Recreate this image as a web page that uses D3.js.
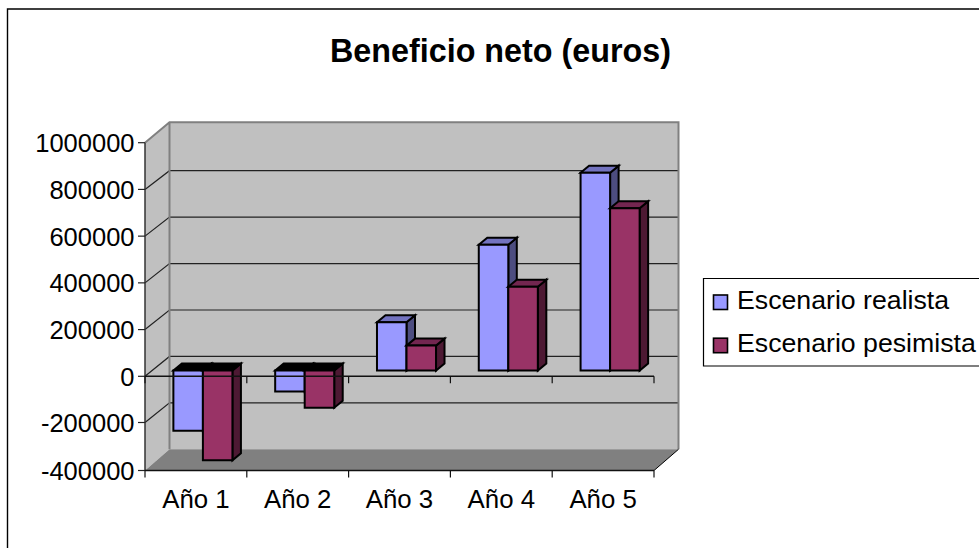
<!DOCTYPE html>
<html>
<head>
<meta charset="utf-8">
<script src="https://cdn.jsdelivr.net/npm/d3@7"></script>
<style>
  body { margin: 0; background: #fff; }
  text { font-family: "Liberation Sans", Arial, sans-serif; fill: #000; }
</style>
</head>
<body>
<div class="graph"></div>
<script>
var categories = ["Año 1", "Año 2", "Año 3", "Año 4", "Año 5"];
var seriesNames = ["Escenario realista", "Escenario pesimista"];
var realista = [-257000, -89000, 207000, 539000, 847000];
var pesimista = [-384000, -159000, 107000, 359000, 695000];
var yTicks = [-400000, -200000, 0, 200000, 400000, 600000, 800000, 1000000];

// Colours: front, top, side
var front = ["#9999ff", "#993366"];
var top3d = ["#7373bf", "#732650"];
var side = ["#4d4d80", "#4d1933"];

// Chart size
var width = 979, height = 548;

// Front plane and back wall of the 3D box
var left = 145, right = 654;
var depthX = 24.5;
var y = d3.scaleLinear()
    .domain([-400000, -200000, 0, 1000000])
    .range([470.5, 422.5, 376.3, 142.7]);
var yBack = d3.scaleLinear()
    .domain([-400000, 800000, 1000000])
    .range([449.3, 170.7, 122.3]);

// Scales for the bars
var x = d3.scaleBand()
    .domain(categories)
    .range([left, right])
    .paddingInner(0.42)
    .paddingOuter(0.21);
var xSeries = d3.scaleBand()
    .domain([0, 1])
    .range([0, x.bandwidth()]);

// Bars stand a little way inside the box
var barOffsetX = 7, barBaseY = 370.6;
var barDepthX = 8.5, barDepthY = 7;
var pxPerUnit = (y(0) - y(200000)) / 200000;

var svg = d3.select(".graph").append("svg")
    .attr("width", width)
    .attr("height", height)
    .style("display", "block");

// Chart frame, open at the right and the bottom where the picture is cut off
svg.append("path")
    .attr("d", "M7.5,548V9H979")
    .attr("fill", "none")
    .attr("stroke", "#000")
    .attr("stroke-width", 1.4);

svg.append("text")
    .attr("x", 500.5)
    .attr("y", 62)
    .attr("text-anchor", "middle")
    .attr("font-size", 32.3)
    .attr("font-weight", "bold")
    .text("Beneficio neto (euros)");

function poly(points, fill, stroke, sw) {
    return svg.append("polygon")
        .attr("points", points.map(function(p) { return p.join(","); }).join(" "))
        .attr("fill", fill)
        .attr("stroke", stroke || "none")
        .attr("stroke-width", sw || 0);
}

// Side wall, back wall, floor
var backLeft = left + depthX, backRight = right + depthX;
poly([[left, y(1000000)], [backLeft, yBack(1000000)], [backLeft, yBack(-400000)], [left, y(-400000)]], "#c0c0c0");
poly([[backLeft, yBack(1000000)], [backRight, yBack(1000000)], [backRight, yBack(-400000)], [backLeft, yBack(-400000)]], "#c0c0c0");
poly([[left, y(-400000)], [backLeft, yBack(-400000)], [backRight, yBack(-400000)], [right, y(-400000)]], "#808080");

// Gridlines on the side and back walls
var grid = yTicks.filter(function(d) { return d > -400000 && d < 1000000; });
svg.selectAll(".grid")
    .data(grid)
    .enter().append("path")
    .attr("class", "grid")
    .attr("d", function(d) {
        return "M" + left + "," + y(d) + "L" + backLeft + "," + yBack(d) + "H" + backRight;
    })
    .attr("fill", "none")
    .attr("stroke", "#222")
    .attr("stroke-width", 1.2);

// Wall edges
svg.append("path")
    .attr("d", "M" + left + "," + y(1000000) + "L" + backLeft + "," + yBack(1000000) + "H" + backRight + "V" + yBack(-400000) +
        "M" + backLeft + "," + yBack(1000000) + "V" + yBack(-400000))
    .attr("fill", "none")
    .attr("stroke", "#808080")
    .attr("stroke-width", 2);
svg.append("path")
    .attr("d", "M" + right + "," + y(-400000) + "L" + backRight + "," + yBack(-400000))
    .attr("fill", "none")
    .attr("stroke", "#000")
    .attr("stroke-width", 1);

// Bars
function drawBar(cat, i, value) {
    var x0 = x(cat) + xSeries(i) + barOffsetX;
    var x1 = x0 + xSeries.bandwidth();
    var yEnd = barBaseY - value * pxPerUnit;
    var yTop = Math.min(barBaseY, yEnd), yBottom = Math.max(barBaseY, yEnd);
    var dx = barDepthX, dy = barDepthY;
    // Negative bars show a black cap at the zero plane
    var topFill = value < 0 ? "#000" : top3d[i];
    poly([[x1, yTop], [x1 + dx, yTop - dy], [x1 + dx, yBottom - dy], [x1, yBottom]], side[i], "#000", 2);
    poly([[x0, yTop], [x0 + dx, yTop - dy], [x1 + dx, yTop - dy], [x1, yTop]], topFill, "#000", 2);
    poly([[x0, yTop], [x1, yTop], [x1, yBottom], [x0, yBottom]], front[i], "#000", 2);
}
d3.range(categories.length).forEach(function(c) {
    drawBar(categories[c], 0, realista[c]);
    drawBar(categories[c], 1, pesimista[c]);
});

// Y axis
var yAxis = svg.append("g");
yAxis.append("path")
    .attr("d", "M" + left + "," + y(1000000) + "V" + y(-400000))
    .attr("stroke", "#333")
    .attr("stroke-width", 1.5);
yAxis.selectAll(".tick")
    .data(yTicks)
    .enter().append("path")
    .attr("d", function(d) { return "M" + (left - 7) + "," + y(d) + "H" + left; })
    .attr("stroke", "#222")
    .attr("stroke-width", 1.2);
yAxis.selectAll("text")
    .data(yTicks)
    .enter().append("text")
    .attr("x", 134.5)
    .attr("y", function(d) { return y(d) + 9.5; })
    .attr("text-anchor", "end")
    .attr("font-size", 25.5)
    .text(function(d) { return d; });

// Zero line and bottom axis, both with category ticks
var catEdges = categories.map(function(d) { return x(d) - x.step() * x.paddingOuter(); }).concat([right]);
[y(0), y(-400000)].forEach(function(a) {
    svg.append("path")
        .attr("d", "M" + left + "," + a + "H" + right)
        .attr("stroke", "#111")
        .attr("stroke-width", 1.5);
    svg.selectAll(null)
        .data(catEdges)
        .enter().append("path")
        .attr("d", function(d) { return "M" + d + "," + a + "v7"; })
        .attr("stroke", "#111")
        .attr("stroke-width", 1.2);
});

svg.selectAll(".cat")
    .data(categories)
    .enter().append("text")
    .attr("class", "cat")
    .attr("x", function(d) { return x(d) + x.bandwidth() / 2; })
    .attr("y", 508)
    .attr("text-anchor", "middle")
    .attr("font-size", 25.8)
    .text(function(d) { return d; });

// Legend, cut off by the right edge
svg.append("path")
    .attr("d", "M979,278.5H703.5V366H979")
    .attr("fill", "#fff")
    .attr("stroke", "#000")
    .attr("stroke-width", 1.2);
seriesNames.forEach(function(name, i) {
    var ly = 309 + i * 43.2;
    svg.append("rect")
        .attr("x", 713.5)
        .attr("y", ly - 14)
        .attr("width", 14)
        .attr("height", 14.5)
        .attr("fill", front[i])
        .attr("stroke", "#000")
        .attr("stroke-width", 1.6);
    svg.append("text")
        .attr("x", 737)
        .attr("y", ly)
        .attr("font-size", 26.7)
        .text(name);
});
</script>
</body>
</html>
